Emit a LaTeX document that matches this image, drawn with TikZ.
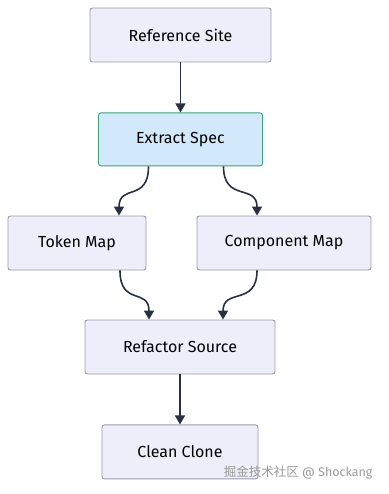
\documentclass[tikz,border=0pt]{standalone}
\usepackage{fontspec}
\setmainfont{Fira Sans}
\newfontfamily\cjkfont{Noto Sans CJK SC}
\usetikzlibrary{arrows.meta,positioning}
\definecolor{boxfill}{HTML}{EEEEFB}
\definecolor{boxline}{HTML}{9A9AAE}
\definecolor{specfill}{HTML}{D2E9FB}
\definecolor{specline}{HTML}{3DA07C}
\definecolor{wirecol}{HTML}{283142}
\begin{document}
\begin{tikzpicture}[x=1pt,y=1pt,font=\fontsize{16}{19}\selectfont,
  box/.style={draw=boxline,fill=boxfill,rounded corners=2.5pt,minimum height=54pt,inner sep=0pt,line width=0.9pt},
  spec/.style={box,draw=specline,fill=specfill},
  wire/.style={-{Triangle[length=9pt,width=10pt]},draw=wirecol,line width=1.6pt}]
\useasboundingbox (0,0) rectangle (388,-494);
\node[box,minimum width=181pt] (refsite) at (180.5,-35) {Reference Site};
\node[spec,minimum width=164pt,minimum height=53pt,below=50pt of refsite] (extract) {Extract Spec};
\node[box,minimum width=138pt] (tokenmap) at (77,-243) {Token Map};
\node[box,minimum width=174pt] (compmap) at (284,-243) {Component Map};
\node[box,minimum width=190pt] (refactor) at (180,-347) {Refactor Source};
\node[box,minimum width=156pt,below=50pt of refactor] (clone) {Clean Clone};
\draw[wire] (refsite)--(extract);
\draw[wire] ([xshift=-32pt]extract.south) .. controls +(0,-36) and +(0,32) .. ([xshift=42pt]tokenmap.north);
\draw[wire] ([xshift=43pt]extract.south) .. controls +(0,-36) and +(0,32) .. ([xshift=-27pt]compmap.north);
\draw[wire] ([xshift=43pt]tokenmap.south) .. controls +(0,-36) and +(0,32) .. ([xshift=-31pt]refactor.north);
\draw[wire] ([xshift=-27pt]compmap.south) .. controls +(0,-36) and +(0,32) .. ([xshift=43pt]refactor.north);
\draw[wire] (refactor)--(clone);
% watermark
\node[anchor=east,text=black!40,font=\fontsize{12.5}{15}\selectfont] (mark) at (376,-473) {{\cjkfont 掘金技术社区} @ Shockang};
\end{tikzpicture}
\end{document}
